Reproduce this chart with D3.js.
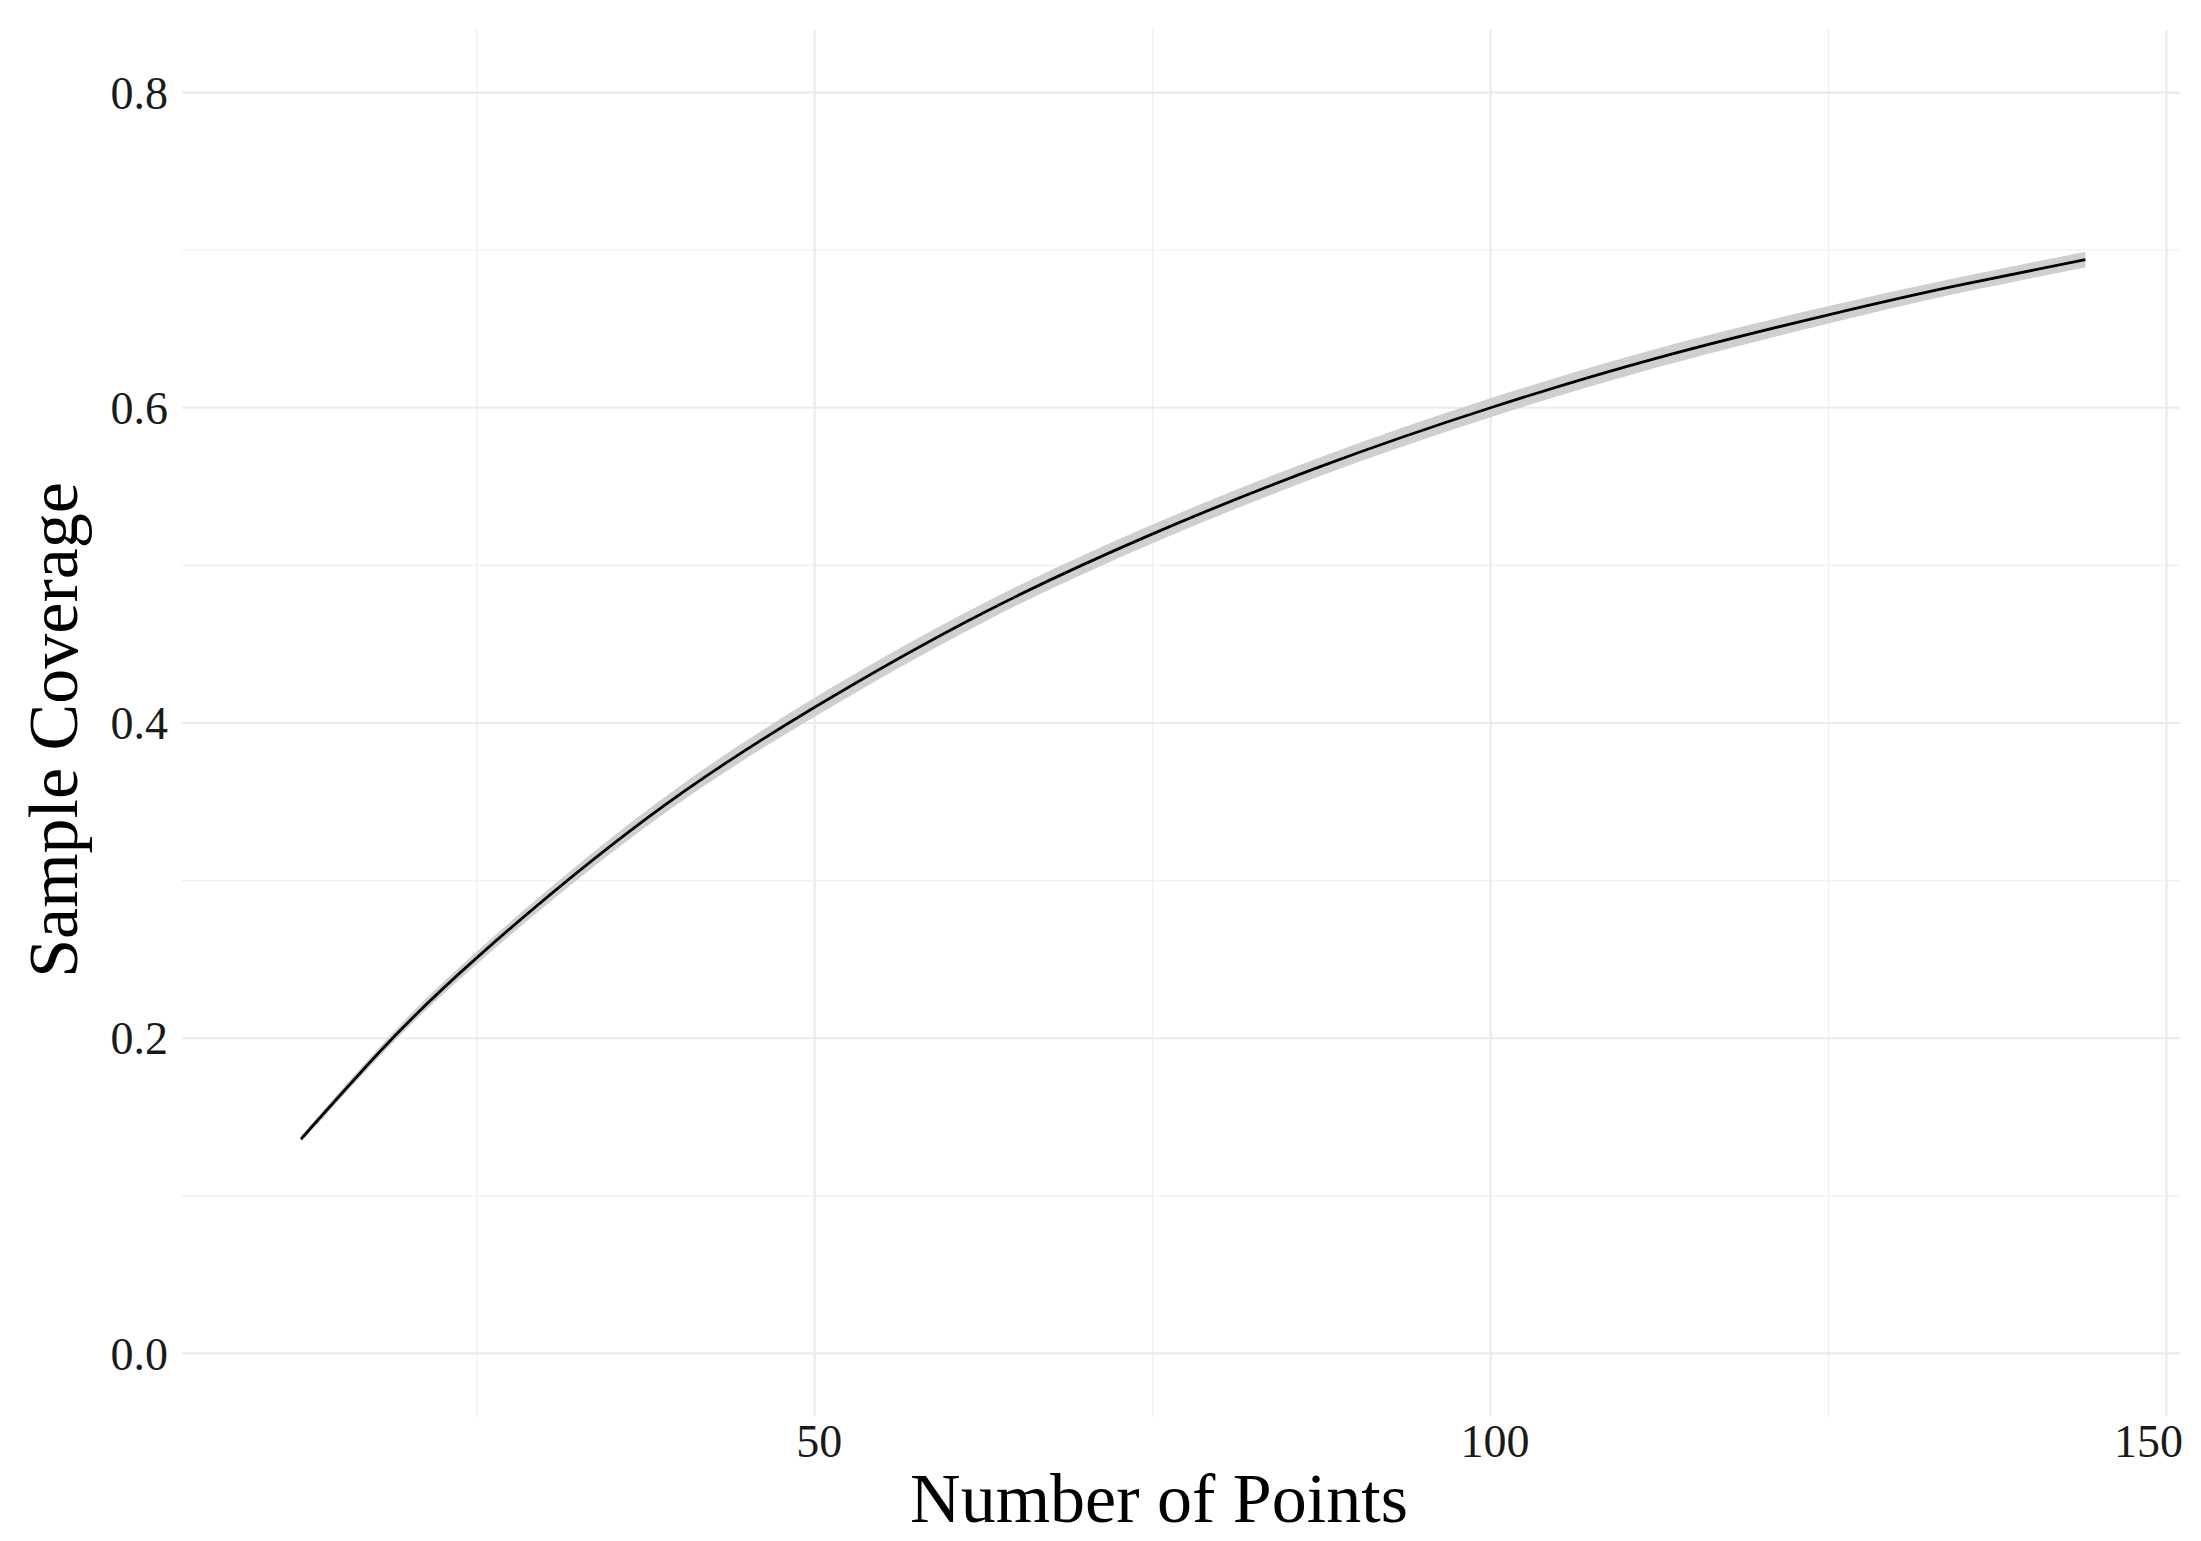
<!DOCTYPE html>
<html>
<head>
<meta charset="utf-8">
<script src="https://cdn.jsdelivr.net/npm/d3@7"></script>
<style>
  html, body { margin: 0; padding: 0; background: #ffffff; }
  svg { display: block; }
  text { font-family: "Palatino Linotype", "Book Antiqua", Palatino, "Liberation Serif", "DejaVu Serif", serif; }
</style>
</head>
<body>
<svg id="chart" width="2201" height="1541"></svg>
<script>
// ---- data ----
const points   = [12, 18, 25, 37.5, 50, 62.5, 75, 87.5, 100, 112.5, 125, 134.5, 144];
const coverage = [0.136, 0.193, 0.251, 0.339, 0.410, 0.470, 0.520, 0.563, 0.600, 0.632, 0.659, 0.6775, 0.694];
const lowerCI  = [0.134, 0.190, 0.247, 0.334, 0.404, 0.464, 0.514, 0.557, 0.594, 0.626, 0.6535, 0.6725, 0.689];
const upperCI  = [0.138, 0.196, 0.255, 0.344, 0.416, 0.476, 0.526, 0.569, 0.606, 0.638, 0.6645, 0.6825, 0.699];

const xMajorTicks = [50, 100, 150];
const xMinorTicks = [25, 75, 125];
const xTickLabels = ["50", "100", "150"];
const yMajorTicks = [0, 0.2, 0.4, 0.6, 0.8];
const yMinorTicks = [0.1, 0.3, 0.5, 0.7];
const yTickLabels = ["0.0", "0.2", "0.4", "0.6", "0.8"];
const xTitle = "Number of Points";
const yTitle = "Sample Coverage";

// ---- layout ----
const panel = { left: 182, right: 2180, top: 29.5, bottom: 1416.5 };
const svg = d3.select("#chart");

const x = d3.scaleLinear().domain([3.2, 151]).range([panel.left, panel.right]);
const y = d3.scaleLinear().domain([-0.04, 0.84]).range([panel.bottom, panel.top]);

const grid = svg.append("g");
// minor grid
grid.selectAll("line.xminor").data(xMinorTicks).join("line")
  .attr("x1", d => x(d)).attr("x2", d => x(d))
  .attr("y1", panel.top).attr("y2", panel.bottom)
  .attr("stroke", "#f0f0f0").attr("stroke-width", 1.3);
grid.selectAll("line.yminor").data(yMinorTicks).join("line")
  .attr("x1", panel.left).attr("x2", panel.right)
  .attr("y1", d => y(d)).attr("y2", d => y(d))
  .attr("stroke", "#f0f0f0").attr("stroke-width", 1.3);
// major grid
grid.selectAll("line.xmajor").data(xMajorTicks).join("line")
  .attr("x1", d => x(d)).attr("x2", d => x(d))
  .attr("y1", panel.top).attr("y2", panel.bottom)
  .attr("stroke", "#ebebeb").attr("stroke-width", 2.2);
grid.selectAll("line.ymajor").data(yMajorTicks).join("line")
  .attr("x1", panel.left).attr("x2", panel.right)
  .attr("y1", d => y(d)).attr("y2", d => y(d))
  .attr("stroke", "#ebebeb").attr("stroke-width", 2.2);

// ---- ribbon + line ----
const rows = points.map((p, i) => ({ n: p, c: coverage[i], lo: lowerCI[i], hi: upperCI[i] }));

svg.append("path")
  .datum(rows)
  .attr("fill", "#cfcfcf")
  .attr("d", d3.area().x(d => x(d.n)).y0(d => y(d.lo)).y1(d => y(d.hi)).curve(d3.curveNatural));

svg.append("path")
  .datum(rows)
  .attr("fill", "none")
  .attr("stroke", "#000000")
  .attr("stroke-width", 2.8)
  .attr("d", d3.line().x(d => x(d.n)).y(d => y(d.c)).curve(d3.curveNatural));

// ---- axes (labels only) ----
const xAxis = d3.axisBottom(x).tickValues(xMajorTicks).tickSize(0).tickPadding(0)
  .tickFormat((d, i) => xTickLabels[i]);
const gx = svg.append("g").attr("transform", `translate(0, 1457)`).call(xAxis);
gx.select(".domain").remove();
gx.selectAll("text")
  .attr("y", 0).attr("dy", 0)
  .attr("font-size", 46).attr("fill", "#1a1a1a")
  .attr("font-family", null)
  .attr("text-anchor", (d, i) => i === xMajorTicks.length - 1 ? "end" : "middle")
  .attr("dx", (d, i) => i === xMajorTicks.length - 1 ? 16 : 4);

const yAxis = d3.axisLeft(y).tickValues(yMajorTicks).tickSize(0).tickPadding(0)
  .tickFormat((d, i) => yTickLabels[i]);
const gy = svg.append("g").attr("transform", `translate(168, 0)`).call(yAxis);
gy.select(".domain").remove();
gy.selectAll("text")
  .attr("x", 0).attr("dy", "0.34em")
  .attr("font-size", 46).attr("fill", "#1a1a1a")
  .attr("font-family", null);

// ---- titles ----
svg.append("text")
  .attr("x", 1159).attr("y", 1522)
  .attr("text-anchor", "middle")
  .attr("font-size", 70).attr("fill", "#000")
  .text(xTitle);

svg.append("text")
  .attr("transform", "translate(77, 730) rotate(-90)")
  .attr("text-anchor", "middle")
  .attr("font-size", 70).attr("fill", "#000")
  .text(yTitle);
</script>
</body>
</html>
